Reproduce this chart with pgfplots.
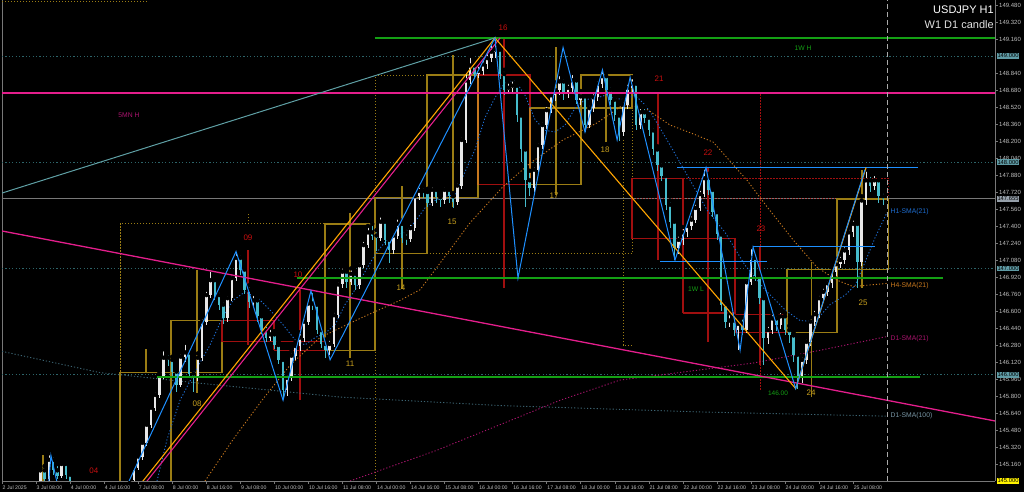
\documentclass[border=0pt]{standalone}
\usepackage{pgfplots}
\pgfplotsset{compat=1.18}
\usepackage{pgfplotstable}
\usepackage{fontspec}
\setmainfont{Liberation Sans}

\definecolor{bull}{RGB}{232,232,232}
\definecolor{bear}{RGB}{70,188,204}
\definecolor{zz}{RGB}{30,144,255}
\definecolor{zzor}{RGB}{255,165,0}
\definecolor{tpink}{RGB}{228,30,140}
\definecolor{dgold}{RGB}{155,125,20}
\definecolor{goldtxt}{RGB}{200,160,30}
\definecolor{dred}{RGB}{160,15,15}
\definecolor{redtxt}{RGB}{200,15,15}
\definecolor{lvl}{RGB}{45,100,105}
\definecolor{lvlbox}{RGB}{95,155,165}
\definecolor{wgreen}{RGB}{20,160,20}
\definecolor{cadet}{RGB}{95,160,165}
\definecolor{hone}{RGB}{30,110,210}
\definecolor{hfour}{RGB}{200,120,30}
\definecolor{done}{RGB}{170,20,110}
\definecolor{dhund}{RGB}{60,100,115}
\definecolor{axgray}{RGB}{120,120,120}
\definecolor{tickgray}{RGB}{190,190,190}

% H1 candles, two-hour steps: bar index, open, high, low, close
\pgfplotstableread{
x o h l c
16 144.90 144.96 144.85 144.92
18 144.92 145.12 144.90 145.10
20 145.10 145.14 144.98 145.02
22 145.02 145.26 145.00 145.20
24 145.20 145.24 145.06 145.10
26 145.10 145.16 145.02 145.05
28 145.05 145.19 145.03 145.16
30 145.16 145.19 145.02 145.06
32 145.06 145.08 144.90 144.95
56 144.85 144.92 144.80 144.88
58 144.88 144.96 144.85 144.91
60 144.91 145.04 144.89 145.01
62 145.01 145.14 144.99 145.12
64 145.12 145.26 145.10 145.23
66 145.23 145.39 145.20 145.36
68 145.36 145.56 145.33 145.53
70 145.53 145.72 145.50 145.69
72 145.69 145.85 145.66 145.81
74 145.81 146.02 145.78 145.99
76 145.99 146.24 145.96 146.16
78 146.16 146.20 146.08 146.14
80 146.14 146.17 145.99 146.03
82 146.03 146.06 145.84 145.90
84 145.90 146.21 145.88 146.17
86 146.17 146.30 146.12 146.21
88 146.21 146.24 145.97 146.01
90 146.01 146.05 145.84 145.97
92 145.97 146.20 145.94 146.16
94 146.16 146.54 146.13 146.50
96 146.50 146.80 146.47 146.75
98 146.75 146.99 146.72 146.89
100 146.89 146.92 146.70 146.75
102 146.75 146.79 146.61 146.66
104 146.66 146.70 146.48 146.53
106 146.53 146.76 146.50 146.72
108 146.72 146.95 146.69 146.91
110 146.91 147.17 146.88 147.10
112 147.10 147.14 146.94 146.99
114 146.99 147.02 146.76 146.80
116 146.80 146.84 146.63 146.68
118 146.68 146.76 146.64 146.70
120 146.70 146.73 146.50 146.55
122 146.55 146.58 146.38 146.42
124 146.42 146.47 146.31 146.35
126 146.35 146.44 146.32 146.38
128 146.38 146.41 146.24 146.28
130 146.28 146.31 146.10 146.14
132 146.14 146.17 145.78 145.86
134 145.86 146.01 145.80 145.97
136 145.97 146.22 145.94 146.18
138 146.18 146.31 146.14 146.27
140 146.27 146.40 146.22 146.35
142 146.35 146.54 146.31 146.50
144 146.50 146.72 146.47 146.67
146 146.67 146.79 146.61 146.66
148 146.66 146.69 146.38 146.42
150 146.42 146.45 146.25 146.29
152 146.29 146.33 146.16 146.23
154 146.23 146.34 146.19 146.29
156 146.29 146.60 146.26 146.56
158 146.56 146.89 146.53 146.85
160 146.85 147.02 146.82 146.97
162 146.97 147.00 146.82 146.87
164 146.87 147.00 146.84 146.95
166 146.95 146.98 146.80 146.84
168 146.84 147.07 146.81 147.03
170 147.03 147.27 147.00 147.22
172 147.22 147.40 147.19 147.34
174 147.34 147.42 147.27 147.31
176 147.31 147.36 147.16 147.29
178 147.29 147.50 147.26 147.44
180 147.44 147.47 147.22 147.27
182 147.27 147.30 147.05 147.17
184 147.17 147.35 147.14 147.31
186 147.31 147.48 147.28 147.42
188 147.42 147.45 147.24 147.29
190 147.29 147.34 147.22 147.28
192 147.28 147.43 147.25 147.38
194 147.38 147.72 147.35 147.68
196 147.68 147.78 147.64 147.73
198 147.73 147.77 147.66 147.72
200 147.72 147.75 147.58 147.62
202 147.62 147.78 147.59 147.74
204 147.74 147.77 147.62 147.67
206 147.67 147.70 147.58 147.64
208 147.64 147.78 147.61 147.74
210 147.74 147.77 147.62 147.68
212 147.68 147.71 147.57 147.63
214 147.63 147.82 147.60 147.78
216 147.78 148.25 147.75 148.21
218 148.21 148.85 148.18 148.77
220 148.77 149.00 148.74 148.91
222 148.91 148.95 148.78 148.83
224 148.83 148.92 148.79 148.86
226 148.86 148.97 148.82 148.92
228 148.92 149.05 148.88 148.98
230 148.98 149.12 148.94 149.04
232 149.04 149.17 148.98 149.06
234 149.06 149.09 148.78 148.83
236 148.83 148.87 148.63 148.68
238 148.68 148.76 148.64 148.70
240 148.70 148.78 148.65 148.72
242 148.72 148.75 148.38 148.44
244 148.44 148.47 148.00 148.12
246 148.12 148.15 147.58 147.83
248 147.83 147.92 147.68 147.76
250 147.76 147.97 147.72 147.93
252 147.93 148.20 147.90 148.16
254 148.16 148.39 148.12 148.35
256 148.35 148.54 148.31 148.49
258 148.49 148.68 148.46 148.63
260 148.63 148.75 148.58 148.68
262 148.68 148.83 148.63 148.76
264 148.76 148.80 148.59 148.64
266 148.64 148.75 148.60 148.70
268 148.70 148.84 148.66 148.77
270 148.77 148.80 148.55 148.59
272 148.59 148.67 148.54 148.62
274 148.62 148.65 148.28 148.35
276 148.35 148.55 148.32 148.51
278 148.51 148.66 148.47 148.61
280 148.61 148.78 148.58 148.74
282 148.74 148.87 148.70 148.81
284 148.81 148.84 148.63 148.68
286 148.68 148.72 148.54 148.59
288 148.59 148.62 148.39 148.44
290 148.44 148.47 148.20 148.28
292 148.28 148.58 148.25 148.54
294 148.54 148.75 148.50 148.70
296 148.70 148.80 148.66 148.74
298 148.74 148.77 148.30 148.35
300 148.35 148.52 148.31 148.47
302 148.47 148.52 148.37 148.42
304 148.42 148.45 148.25 148.30
306 148.30 148.34 148.07 148.12
308 148.12 148.15 147.92 147.97
310 147.97 148.01 147.82 147.87
312 147.87 147.90 147.55 147.60
314 147.60 147.64 147.38 147.44
316 147.44 147.47 147.08 147.19
318 147.19 147.32 147.14 147.27
320 147.27 147.39 147.22 147.34
322 147.34 147.45 147.30 147.40
324 147.40 147.51 147.36 147.46
326 147.46 147.62 147.43 147.57
328 147.57 147.75 147.54 147.70
330 147.70 147.95 147.67 147.85
332 147.85 147.89 147.69 147.74
334 147.74 147.77 147.48 147.53
336 147.53 147.56 147.27 147.32
338 147.32 147.35 146.60 146.66
340 146.66 146.70 146.44 146.50
342 146.50 146.58 146.45 146.51
344 146.51 146.55 146.36 146.42
346 146.42 146.52 146.23 146.48
348 146.48 146.54 146.37 146.42
350 146.42 146.91 146.39 146.87
352 146.87 147.20 146.84 147.10
354 147.10 147.13 146.88 146.93
356 146.93 146.96 146.67 146.72
358 146.72 146.75 146.09 146.35
360 146.35 146.47 146.29 146.42
362 146.42 146.58 146.38 146.53
364 146.53 146.57 146.41 146.47
366 146.47 146.60 146.43 146.55
368 146.55 146.58 146.37 146.42
370 146.42 146.46 146.30 146.37
372 146.37 146.40 146.12 146.19
374 146.19 146.22 145.87 145.97
376 145.97 146.18 145.92 146.14
378 146.14 146.35 146.10 146.31
380 146.31 146.54 146.27 146.50
382 146.50 146.62 146.46 146.57
384 146.57 146.76 146.53 146.72
386 146.72 146.83 146.68 146.78
388 146.78 146.90 146.74 146.86
390 146.86 147.01 146.82 146.97
392 146.97 147.09 146.93 147.04
394 147.04 147.13 147.00 147.08
396 147.08 147.22 147.04 147.17
398 147.17 147.38 147.13 147.34
400 147.34 147.47 147.30 147.42
402 147.42 147.45 146.82 147.06
404 147.06 147.68 147.02 147.64
406 147.64 147.93 147.60 147.83
408 147.83 147.88 147.72 147.78
410 147.78 147.89 147.74 147.83
412 147.83 147.86 147.62 147.68
414 147.68 147.72 147.60 147.655
}\candles

\pgfplotsset{
  d1g/.style={draw=dgold, line width=1.3pt},
  d1r/.style={draw=dred, line width=1.3pt},
  w1g/.style={draw=dgold, line width=0.9pt, dash pattern=on 1.2pt off 1.8pt},
  w1r/.style={draw=dred, line width=0.9pt, dash pattern=on 1.2pt off 1.8pt},
  lev/.style={draw=lvl, line width=0.8pt, dash pattern=on 1.2pt off 2.2pt},
  sma/.style={line width=0.9pt, dash pattern=on 1.2pt off 2pt},
  wick/.style={only marks, mark=none, forget plot,
    error bars/.cd, y dir=minus, y explicit, error mark=none,
    error bar style={line width=0.6pt, #1}, /pgfplots/.cd},
  body/.style={only marks, mark=none, forget plot,
    error bars/.cd, y dir=minus, y explicit, error mark=none,
    error bar style={line width=2.5pt, #1}, /pgfplots/.cd},
}
\tikzset{
  lab/.style={font=\fontsize{8}{9}\selectfont, inner sep=0pt},
  small/.style={font=\fontsize{6.8}{8}\selectfont, inner sep=0pt},
  pbox/.style={font=\fontsize{5.8}{6.5}\selectfont, inner sep=0.8pt, anchor=west, text=black},
}

\begin{document}
\begin{tikzpicture}
\fill[black] (0,0) rectangle (1024pt,492pt);
\useasboundingbox (0,0) rectangle (1024pt,492pt);
\begin{axis}[
  at={(2pt,11pt)}, anchor=south west, scale only axis,
  width=993pt, height=481pt,
  xmin=0, xmax=466.7, ymin=145, ymax=149.527,
  axis x line*=bottom, axis y line*=right,
  axis line style={axgray, line width=0.6pt, -},
  tick align=outside, major tick length=3pt,
  tick style={axgray, line width=0.5pt},
  xtick={0,16,...,400},
  xticklabels={2 Jul 2025, 3 Jul 08:00, 4 Jul 00:00, 4 Jul 16:00, 7 Jul 08:00, 8 Jul 00:00, 8 Jul 16:00, 9 Jul 08:00, 10 Jul 00:00, 10 Jul 16:00, 11 Jul 08:00, 14 Jul 00:00, 14 Jul 16:00, 15 Jul 08:00, 16 Jul 00:00, 16 Jul 16:00, 17 Jul 08:00, 18 Jul 00:00, 18 Jul 16:00, 21 Jul 08:00, 22 Jul 00:00, 22 Jul 16:00, 23 Jul 08:00, 24 Jul 00:00, 24 Jul 16:00, 25 Jul 08:00},
  xticklabel style={font=\fontsize{5.2}{6}\selectfont, text=tickgray, anchor=north west, inner sep=0pt, yshift=-1.5pt, xshift=0.5pt},
  ytick={145.16,145.32,145.48,145.64,145.80,145.96,146.12,146.28,146.44,146.60,146.76,146.92,147.08,147.24,147.40,147.56,147.72,147.88,148.04,148.20,148.36,148.52,148.68,148.84,149.16,149.32,149.48},
  yticklabel style={font=\fontsize{6}{7}\selectfont, text=tickgray, anchor=west, inner sep=0pt, xshift=1pt,
    /pgf/number format/.cd, fixed, fixed zerofill, precision=3, assume math mode=true},
  clip mode=individual,
  no markers,
]
% chart frame on the left
\addplot[draw=axgray, line width=0.6pt] coordinates {(0,145)(0,149.527)};

% round-number levels and current price
\addplot[lev] coordinates {(0,149.00)(466.7,149.00)};
\addplot[lev] coordinates {(0,148.00)(466.7,148.00)};
\addplot[lev] coordinates {(0,147.00)(466.7,147.00)};
\addplot[lev] coordinates {(0,146.00)(466.7,146.00)};
\addplot[draw=axgray, line width=0.9pt] coordinates {(0,147.655)(466.7,147.655)};

% weekly candles (dotted)
\addplot[w1g] coordinates {(0,149.51)(68.2,149.51)};
\addplot[w1g] coordinates {(55.46,144.9)(55.46,147.42)(175.3,147.42)(175.3,144.9)};
\addplot[w1g] coordinates {(115.6,147.42)(115.6,147.52)};
\addplot[w1g] coordinates {(223.7,148.82)(175.3,148.82)(175.3,147.14)(296.1,147.14)(296.1,148.51)(248.2,148.51)};
\addplot[w1g] coordinates {(292.0,148.21)(292.0,146.28)(296.1,146.28)};
\addplot[w1r] coordinates {(296.1,147.655)(296.1,147.85)(416.5,147.85)(416.5,147.655)(296.1,147.655)};
\addplot[w1r] coordinates {(356.3,145.86)(356.3,148.65)};

% daily candles
\addplot[d1g] coordinates {(19.27,144.9)(19.27,145.24)};
\addplot[d1g] coordinates {(55.46,144.9)(55.46,146.02)(79.4,146.02)(79.4,144.9)};
\addplot[d1g] coordinates {(67.7,146.02)(67.7,146.24)};
\addplot[d1g] coordinates {(79.4,146.02)(79.4,146.51)(103.4,146.51)(103.4,146.02)(79.4,146.02)};
\addplot[d1g] coordinates {(91.65,145.83)(91.65,146.99)};
\addplot[d1r] coordinates {(103.4,146.31)(103.4,146.51)(127.8,146.51)(127.8,146.31)(103.4,146.31)};
\addplot[d1r] coordinates {(115.6,146.28)(115.6,147.17)};
\addplot[d1r] coordinates {(127.8,146.23)(127.8,146.31)(151.8,146.31)(151.8,146.23)(127.8,146.23)};
\addplot[d1r] coordinates {(140.1,145.76)(140.1,146.80)};
\addplot[d1g] coordinates {(151.8,146.23)(151.8,147.42)(175.3,147.42)(175.3,146.23)(151.8,146.23)};
\addplot[d1g] coordinates {(163.6,146.16)(163.6,147.52)};
\addplot[d1g] coordinates {(175.3,147.14)(175.3,147.67)(199.8,147.67)(199.8,147.14)(175.3,147.14)};
\addplot[d1g] coordinates {(188.0,146.81)(188.0,147.78)};
\addplot[d1g] coordinates {(199.8,147.67)(199.8,148.82)(223.7,148.82)(223.7,147.67)(199.8,147.67)};
\addplot[d1g] coordinates {(212.0,147.58)(212.0,149.01)};
\addplot[d1r] coordinates {(223.7,147.79)(223.7,148.82)(248.2,148.82)(248.2,147.79)(223.7,147.79)};
\addplot[d1r] coordinates {(236.0,146.82)(236.0,149.17)};
\addplot[d1g] coordinates {(248.2,147.79)(248.2,148.51)(272.1,148.51)(272.1,147.79)(248.2,147.79)};
\addplot[d1g] coordinates {(260.4,147.69)(260.4,149.08)};
\addplot[d1g] coordinates {(272.1,148.51)(272.1,148.82)(296.1,148.82)(296.1,148.51)(272.1,148.51)};
\addplot[d1g] coordinates {(283.9,148.19)(283.9,148.85)};
\addplot[d1r] coordinates {(296.1,147.28)(296.1,147.85)(320.1,147.85)(320.1,147.28)(296.1,147.28)};
\addplot[d1r] coordinates {(308.3,147.08)(308.3,148.65)};
\addplot[d1r] coordinates {(320.1,146.58)(320.1,147.28)(344.5,147.28)(344.5,146.58)(320.1,146.58)};
\addplot[d1r] coordinates {(331.8,146.31)(331.8,147.95)};
\addplot[d1r] coordinates {(344.5,146.40)(344.5,146.57)(369.0,146.57)(369.0,146.40)(344.5,146.40)};
\addplot[d1r] coordinates {(356.3,146.09)(356.3,147.20)};
\addplot[d1g] coordinates {(369.0,146.40)(369.0,146.99)(392.5,146.99)(392.5,146.40)(369.0,146.40)};
\addplot[d1g] coordinates {(380.3,145.79)(380.3,147.06)};
\addplot[d1g] coordinates {(392.5,146.99)(392.5,147.655)(416.5,147.655)(416.5,146.99)(392.5,146.99)};
\addplot[d1g] coordinates {(404.2,146.82)(404.2,147.93)};
% orange edges beside the 16 Jul box
\addplot[draw=hfour, line width=1.3pt] coordinates {(223.7,148.82)(223.7,147.79)};
\addplot[draw=hfour, line width=1.3pt] coordinates {(248.2,148.51)(248.2,147.79)};

% moving averages
\addplot[sma, draw=dhund] coordinates {(0,146.22)(46.06,146.02)(93.07,145.92)(158.87,145.79)(234.07,145.71)(328.08,145.65)(415.98,145.61)};
\addplot[sma, draw=done] coordinates {(163.57,145.00)(204.46,145.29)(234.07,145.53)(262.28,145.76)(290.48,145.95)(321.97,146.03)(353.00,146.11)(384.49,146.23)(415.98,146.36)};
\addplot[sma, draw=hfour] coordinates {(95.42,145.00)(108.58,145.39)(122.21,145.76)(135.37,146.09)(149.47,146.35)(168.27,146.53)(187.07,146.70)(196.47,146.80)(205.87,147.05)(219.97,147.43)(235.49,147.77)(248.17,147.99)(263.68,148.21)(279.67,148.37)(291.89,148.54)(302.23,148.51)(313.98,148.35)(325.73,148.26)(334.19,148.19)(350.17,147.83)(359.57,147.58)(371.79,147.27)(383.07,147.01)(392.47,146.89)(399.99,146.83)(415.98,146.86)};
\addplot[sma, draw=hone] coordinates {(72.85,145.00)(77.55,145.39)(83.67,145.76)(90.72,146.03)(97.77,146.28)(103.41,146.53)(108.58,146.70)(114.22,146.78)(120.33,146.72)(125.97,146.61)(132.08,146.47)(137.72,146.33)(142.42,146.28)(147.12,146.35)(151.82,146.39)(156.52,146.47)(161.22,146.66)(165.92,146.80)(170.62,146.97)(175.32,147.13)(180.02,147.25)(184.72,147.31)(189.42,147.34)(194.12,147.44)(198.82,147.57)(203.52,147.64)(208.22,147.68)(212.92,147.69)(217.62,147.91)(222.32,148.12)(227.02,148.42)(231.72,148.61)(236.42,148.75)(241.12,148.77)(245.83,148.63)(250.53,148.40)(255.23,148.30)(259.93,148.285)(264.63,148.35)(269.33,148.51)(274.03,148.59)(278.73,148.60)(283.43,148.63)(288.13,148.60)(292.83,148.59)(297.53,148.63)(302.23,148.54)(306.93,148.40)(312.57,148.21)(321.97,147.88)(331.37,147.55)(339.83,147.34)(349.23,147.03)(358.63,146.80)(368.03,146.61)(375.08,146.51)(382.13,146.50)(389.18,146.66)(396.23,146.75)(400.93,146.84)(405.64,147.06)(410.34,147.29)(415.98,147.53)};

% candles
\addplot[restrict expr to domain={\thisrow{c}-\thisrow{o}}{0:10}, wick=bull]
  table[x=x, y=h, y error minus expr={\thisrow{h}-\thisrow{l}}] {\candles};
\addplot[restrict expr to domain={\thisrow{c}-\thisrow{o}}{-10:-0.0001}, wick=bear]
  table[x=x, y=h, y error minus expr={\thisrow{h}-\thisrow{l}}] {\candles};
\addplot[restrict expr to domain={\thisrow{c}-\thisrow{o}}{0:10}, body=bull]
  table[x=x, y=c, y error minus expr={\thisrow{c}-\thisrow{o}}] {\candles};
\addplot[restrict expr to domain={\thisrow{c}-\thisrow{o}}{-10:-0.0001}, body=bear]
  table[x=x, y=o, y error minus expr={\thisrow{o}-\thisrow{c}}] {\candles};

% horizontal lines
\addplot[draw=tpink, line width=1.5pt] coordinates {(0,148.65)(466.7,148.65)};
\addplot[draw=wgreen, line width=1.3pt] coordinates {(175.3,149.17)(466.7,149.17)};
\addplot[draw=wgreen, line width=1.3pt] coordinates {(138.7,146.91)(442.3,146.91)};
\addplot[draw=wgreen, line width=1.3pt] coordinates {(72.9,145.98)(431.5,145.98)};
\addplot[draw=zz, line width=1pt] coordinates {(317.3,147.955)(430.5,147.955)};
\addplot[draw=zz, line width=1pt] coordinates {(353.0,147.21)(410.3,147.21)};
\addplot[draw=zz, line width=1pt] coordinates {(309.3,147.07)(359.6,147.07)};

% trend lines and zigzags
\addplot[draw=cadet, line width=1pt] coordinates {(0,147.71)(231.7,149.17)};
\addplot[draw=tpink, line width=1.3pt] coordinates {(0,147.353)(466.7,145.565)};
\addplot[draw=tpink, line width=1.1pt] coordinates {(64.2,144.9)(234.1,149.17)};
\addplot[draw=zzor, line width=1.1pt] coordinates {(62.3,144.9)(231.7,149.17)(373.0,145.87)(406.1,147.95)};
\addplot[draw=zz, line width=1pt] coordinates {(21.8,144.95)(23.0,145.24)(26.3,144.95)};
\addplot[draw=zz, line width=1pt] coordinates {(57.4,144.9)(110.0,147.16)(132.1,145.76)(145.2,146.79)(154.2,146.14)(231.7,149.17)(242.5,146.91)(263.7,149.08)(274.0,148.285)(282.2,148.87)(289.1,148.21)(295.2,148.80)(316.3,147.08)(330.9,147.95)(346.9,146.23)(353.0,147.20)(373.0,145.87)(405.6,147.93)};

% current bar shift line
\addplot[draw={rgb,255:red,170;green,170;blue,170}, line width=0.8pt, dash pattern=on 5pt off 3pt] coordinates {(416.0,145)(416.0,149.527)};

% labels
\node[lab, text=redtxt] at (axis cs:43.2,145.10) {04};
\node[lab, text=redtxt] at (axis cs:115.6,147.29) {09};
\node[lab, text=redtxt] at (axis cs:139.1,146.94) {10};
\node[lab, text=redtxt] at (axis cs:235.5,149.27) {16};
\node[lab, text=redtxt] at (axis cs:308.8,148.79) {21};
\node[lab, text=redtxt] at (axis cs:331.8,148.09) {22};
\node[lab, text=redtxt] at (axis cs:356.7,147.37) {23};
\node[lab, text=goldtxt] at (axis cs:91.7,145.73) {08};
\node[lab, text=goldtxt] at (axis cs:163.6,146.10) {11};
\node[lab, text=goldtxt] at (axis cs:187.5,146.82) {14};
\node[lab, text=goldtxt] at (axis cs:211.5,147.44) {15};
\node[lab, text=goldtxt] at (axis cs:259.5,147.68) {17};
\node[lab, text=goldtxt] at (axis cs:283.4,148.12) {18};
\node[lab, text=goldtxt] at (axis cs:380.3,145.83) {24};
\node[lab, text=goldtxt] at (axis cs:404.7,146.68) {25};
\node[small, text=wgreen, font=\fontsize{6.5}{7}\selectfont] at (axis cs:364.7,145.83) {146.00};
\node[small, text=wgreen] at (axis cs:376.5,149.075) {1W H};
\node[small, text=wgreen] at (axis cs:326.2,146.81) {1W L};
\node[small, text=done] at (axis cs:59.7,148.44) {5MN H};
\node[small, text=hone, anchor=west] at (axis cs:417.6,147.53) {H1-SMA(21)};
\node[small, text=hfour, anchor=west] at (axis cs:417.6,146.84) {H4-SMA(21)};
\node[small, text=done, anchor=west] at (axis cs:417.6,146.34) {D1-SMA(21)};
\node[small, text={rgb,255:red,120;green,150;blue,165}, anchor=west] at (axis cs:417.6,145.61) {D1-SMA(100)};
\node[font=\fontsize{11}{12}\selectfont, text=white, anchor=east, inner sep=0pt] at (axis cs:466.2,149.433) {USDJPY H1};
\node[font=\fontsize{11}{12}\selectfont, text={rgb,255:red,225;green,225;blue,225}, anchor=east, inner sep=0pt] at (axis cs:466.2,149.30) {W1 D1 candle};

\coordinate (r149) at (axis cs:466.7,149.00);
\coordinate (r148) at (axis cs:466.7,148.00);
\coordinate (r147) at (axis cs:466.7,147.00);
\coordinate (r146) at (axis cs:466.7,146.00);
\coordinate (rnow) at (axis cs:466.7,147.655);
\coordinate (r145) at (axis cs:466.7,145.00);
\end{axis}
\node[pbox, fill=lvlbox] at ([xshift=1.5pt]r149) {149.000};
\node[pbox, fill=lvlbox] at ([xshift=1.5pt]r148) {148.000};
\node[pbox, fill=lvlbox] at ([xshift=1.5pt]r147) {147.000};
\node[pbox, fill=lvlbox] at ([xshift=1.5pt]r146) {146.000};
\node[pbox, fill={rgb,255:red,150;green,160;blue,170}] at ([xshift=1.5pt]rnow) {147.655};
\node[pbox, fill=yellow] at ([xshift=1.5pt]r145) {145.000};
\end{tikzpicture}
\end{document}
